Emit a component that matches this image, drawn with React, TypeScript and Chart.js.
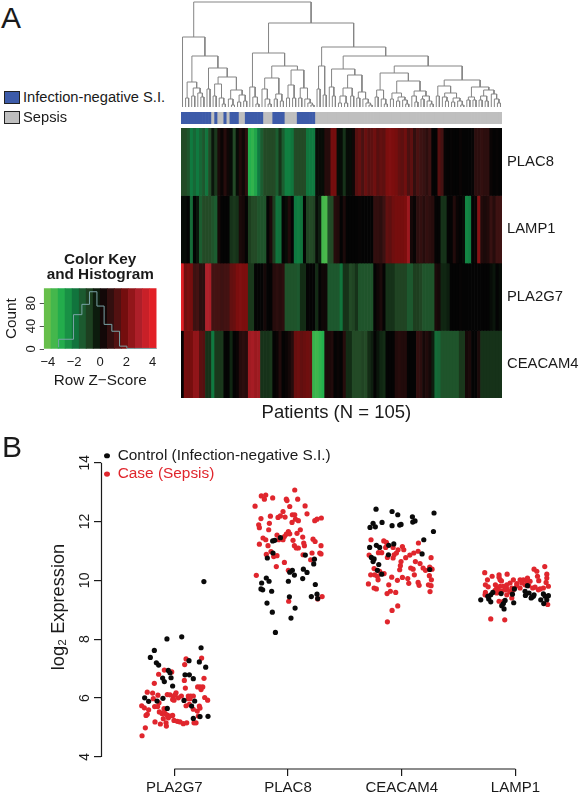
import React, { useEffect, useRef } from "react";
import { Chart, registerables } from "chart.js";

Chart.register(...registerables);

const FONT = "'Liberation Sans', Arial, sans-serif";
const INK = "#1a1a1a";

// ---------- Panel A data ----------
const genes = ["PLAC8", "LAMP1", "PLA2G7", "CEACAM4"];

const plac8Z = [
  -1, -1, -1.2, -2, -1.6, -2, -1.6, -1.3, -1.9, -1,
  -0.2, -0.7, 0.4, 0.1, 0.6, 0.2, -0.1, -1, -0.1, 0.5,
  0.2, 0.7, -3, -3.2, -2.8, -2, -1.4, -1, -1, -1,
  -1, -1.4, -0.6, -1.4, -2.1, -2.1, -1.9, -1, -1, -1,
  -1, -1.9, -2, -2, -0.1, -0.1, -0.1, 0.6, 0.6, 1.9,
  1.9, -0.1, -0.1, -0.6, -0.1, -0.1, 0.2, 1.4, 1.6, 1.2,
  1.7, 1.4, 1.5, 1.8, 1.4, 1.6, 1.5, 2, 2.1, 2,
  1.9, 1.6, 1.5, 1.8, 1.2, 1.5, 0.8, 1.2, 1, 0.9,
  0.7, 1, 0, 0, 1.4, 1.1, 0.05, 0, 0.05, 0,
  0, 0.1, 0, 0, 0, 0.05, 0.7, 0.7, 0.8, 0.7,
  0.7, 0.1, 0, 0.05, 0,
];
const lamp1Z = [
  -0.1, -0.1, 0, -1.7, 0, -0.2, -1.4, -1, -1, -1,
  -1.2, -1.4, 0.3, 0, 0, 0, -0.6, -0.7, -0.6, 0.4,
  0.3, 0, -0.8, -1, -1, -1.2, -1.2, -1.2, 0, 0.4,
  -0.8, -1.9, -1.8, 0, -0.1, 0.5, 0, -2, -2.1, -1.9,
  0, -0.9, -1, -0.9, -0.1, -0.3, -3.5, -3.6, -1.1, -1,
  0.6, 0.5, 0, 0.4, 0, 0, 0, 0, 0.05, 0,
  0, 0, 0, 0.8, 0.8, 0.7, 1, 1.6, 1.5, 1.8,
  1.9, 1.9, 1.9, 2, 2.6, 0.3, 0.1, 0.7, 0.8, 0.6,
  0.8, 0.7, 0.6, 0, 0, -0.6, -0.6, 0, 0, 0.5,
  0.1, 0, -0.1, -2.2, -2.1, 0, 0.1, 2.2, 0.5, 0.4,
  0.5, 0.9, 0.6, 1, 1,
];
const pla2g7Z = [
  4, 1.8, 2, 1.9, 1, 1.1, 0.7, 0.7, 3, 2.9,
  1.1, 1.1, 1.1, 1, 1.1, 1.1, 1.6, 1.7, 2, 2.1,
  2, 2, -0.7, -0.7, 0, 0, 0, 0.3, 0, 0,
  0.6, 0.7, 0.6, 0.7, -1.2, -1.2, -1.2, -1.2, -1.3, -0.5,
  -0.5, 0, 0, 0, -0.5, 0, 0.2, 0.2, -1.3, -1.3,
  -1.3, -1.3, -1.9, -0.6, -0.6, -1, -0.9, -0.6, -1.2, -1.2,
  -1.2, -1.2, -1.2, 0, 0.2, 0.4, 0, -0.6, -0.6, -0.6,
  -0.9, -0.9, -0.9, -0.9, -1.3, -1.3, -0.8, -0.8, -0.9, -1.2,
  -1.2, -1.2, -1.2, 0.4, 0.3, -0.4, -0.4, -0.3, 0, 0,
  0, 0.05, 0, 0, 0, 0, 0, 0, 0, 0,
  0, -0.1, -0.2, 0, -0.1,
];
const ceacam4Z = [
  0, 1.9, 1.8, 1.9, 2.4, 2.4, 1.5, 1.4, -0.6, -0.6,
  -2, -0.7, -0.7, -0.7, 0, 0, -0.4, 0, 0.1, 0.6,
  0.7, 0.6, 2.7, 2.8, 2.6, 2.7, -0.6, -0.6, -0.6, -0.7,
  0, 0.1, 0.5, 0, 0.1, 0.3, 0.6, 1.7, 1.8, 1.6,
  1.7, 1.8, 1.7, -3.3, -3.4, -3.2, -3, 0.4, 0.4, 0.5,
  0, 0.1, 0, 0.6, -0.5, -0.5, -1, -1, -1, -0.9,
  -1, -0.5, -0.3, 0, -0.2, -0.4, -0.5, 0, 0, 0,
  0.5, 0.6, 0.5, 0.5, 0, 0, 0, 0.8, 0.7, 0.3,
  0.5, 0.3, -0.3, -1.7, -1.6, -1.2, -1.2, -1.2, -1.2, -1.2,
  -1.2, -0.7, -0.7, 0.3, 0.4, 0, 0, 0.4, -0.6, -0.6,
  -0.6, -0.6, -0.6, -0.6, -0.6,
];
const heatRows = [plac8Z, lamp1Z, pla2g7Z, ceacam4Z];

// run lengths along the patients: [count, group]; 1 = infection-negative S.I., 0 = sepsis
const sidebarRuns = [
  [10, 1], [1, 0], [1, 1], [2, 0], [1, 1], [1, 0], [3, 1], [2, 0],
  [6, 1], [3, 0], [4, 1], [4, 0], [6, 1], [61, 0],
];

// dendrogram: [height, child, child]; 0 is a patient leaf
const dendroTree: any = [105,
  [70, 0, [51,
    [25, [9, 0, 0], [19, [11, 0, 0], [14, 0, [10, 0, 0]]]],
    [39, [18, 0, 0], [30,
      [23, [11, 0, 0], [9, 0, [3, 0, 0]]],
      [17, [8, 0, [2, 0, 0]], [12, [5, 0, 0], [6, 0, 0]]]]]]],
  [84,
    [54,
      [20, 0, [10, 0, [3, 0, 0]]],
      [41,
        [29, [18, 0, [8, 0, [3, 0, 0]]], [13, [8, 0, 0], [6, 0, 0]]],
        [37, [22, [9, 0, 0], [9, 0, 0]], [19, [9, 0, 0], [8, 0, [4, 0, [2, 0, 0]]]]]]],
    [60,
      [41, [18, 0, 0], [12, 0, 0]],
      [51,
        [38, [20, 0, [11, 0, 0]], [32,
          [19, [11, [4, 0, 0], [4, 0, 0]], [11, 0, 0]],
          [15, [9, 0, 0], [8, 0, [4, 0, [2, 0, 0]]]]]],
        [41,
          [34,
            [17, [10, 0, 0], [8, 0, [3, 0, 0]]],
            [26,
              [14, [8, 0, 0], [10, [6, 0, 0], [7, 0, [3, 0, 0]]]],
              [16, [11, 0, [5, 0, 0]], [11, [8, 0, 0], [6, 0, [3, 0, 0]]]]]],
          [27,
            [21, [11, 0, 0], [14, [10, 0, [6, 0, 0]], [9, [5, 0, 0], [6, 0, [2, 0, 0]]]]],
            [20, [10, [7, 0, 0], [7, 0, 0]], [17, [11, [7, 0, 0], [6, 0, 0]], [13, 0, [8, 0, [4, 0, 0]]]]]]]]]],
];

// colour key
const keyBins = [-4.03, -3.49, -2.95, -2.42, -1.88, -1.34, -0.81, -0.27, 0.27, 0.81, 1.34, 1.88, 2.42, 2.95, 3.49, 4.03];
const zStops: [number, number[]][] = [
  [-4.3, [120, 195, 74]], [-3, [36, 176, 77]], [-2, [15, 122, 64]], [-1, [35, 74, 38]],
  [-0.4, [16, 38, 18]], [0, [4, 4, 4]], [1, [61, 18, 18]], [2, [124, 14, 14]],
  [3, [176, 32, 42]], [4.3, [239, 32, 37]],
];
const histEdges = [-3.18, -2.04, -1.4, -0.82, -0.25, 0.3, 0.89, 1.48, 2.04, 2.62, 4.33];
const histCounts = [3, 17, 60, 78, 100, 75, 43, 31, 5, 1, 1];
const keyXTicks = [-4, -2, 0, 2, 4];
const keyYTicks = [0, 20, 40, 60, 80, 100];
const keyYLabelled = [0, 40, 80];

// ---------- Panel B data: [jittered gene position, log2 expression] ----------
const scatterGenes = ["PLA2G7", "PLAC8", "CEACAM4", "LAMP1"];
const scatterYTicks = [4, 6, 8, 10, 12, 14];

const controlPla2g7 = [
  [.935, 8.01], [1.065, 8.08], [1.235, 7.71], [.824, 7.62], [.789, 7.38], [.842, 7.2], [.862, 7.12], [.947, 6.94],
  [.962, 6.86], [.971, 6.69], [.897, 6.68], [.912, 6.56], [.985, 6.41], [1.129, 7.27], [1.22, 7.23], [1.276, 7.05],
  [1.094, 6.79], [1.132, 6.79], [1.167, 6.66], [.739, 6.01], [.774, 5.89], [.848, 5.9], [.9, 5.99], [.938, 5.65],
  [1.085, 5.92], [1.179, 5.9], [1.152, 5.73], [1.167, 5.31], [1.226, 5.37], [1.296, 5.38],
  [1.26, 9.96],
];
const casePla2g7 = [
  [.716, 4.72], [.745, 4.99], [.713, 5.74], [.736, 5.67], [.762, 5.45], [.774, 5.6], [.751, 5.41], [.762, 6.2],
  [.809, 6.17], [.815, 5.98], [.856, 6.1], [.824, 6.5], [.862, 6.81], [.912, 6.95], [.977, 6.89], [.827, 5.71],
  [.853, 5.71], [.865, 5.84], [.83, 5.19], [.877, 5.12], [.903, 5.3], [.927, 5.16], [.93, 5.05], [.891, 5.48],
  [.909, 5.64], [.918, 5.48], [.938, 5.42], [.962, 5.39], [.985, 5.41], [.997, 5.24], [1.026, 5.21], [1.05, 5.19],
  [1.079, 5.13], [1.109, 5.16], [.938, 6.12], [.962, 6.11], [.991, 6.05], [.997, 5.93], [1.015, 6.18], [1.006, 6.11],
  [1.062, 6.07], [1.097, 6.34], [1.088, 6.6], [1.091, 7.14], [1.103, 7.33], [1.24, 7.36], [1.261, 6.67], [1.205, 6.38],
  [1.226, 6.38], [1.25, 6.38], [1.235, 6.29], [1.267, 6.02], [1.293, 5.93], [1.123, 6.07], [1.144, 6.07], [1.167, 6.07],
  [1.123, 5.98], [1.138, 5.98], [1.103, 5.74], [1.132, 5.79], [1.167, 5.62], [1.22, 5.73], [1.226, 5.66], [1.211, 5.39],
  [1.173, 5.16], [1.191, 5.16], [1.202, 5.56], [.985, 5.95], [1.035, 6.01], [.868, 5.53], [.947, 5.33],
];
const controlPlac8 = [
  [1.865, 11.34], [1.883, 11.36], [1.933, 11.45], [1.868, 10.93], [1.818, 10.76], [2.152, 10.86], [2.232, 10.72], [2.226, 10.56],
  [2.135, 10.38], [2.167, 10.27], [2.038, 10.34], [2.015, 10.28], [2.056, 10.18], [2.129, 10.06], [1.809, 10.08], [1.768, 9.91],
  [1.833, 9.97], [1.762, 9.71], [1.777, 9.68], [1.856, 9.63], [2.003, 9.97], [2.24, 9.86], [1.815, 9.23], [2.012, 9.44],
  [2.205, 9.45], [2.255, 9.53], [2.261, 9.38], [2.062, 9.06], [1.862, 8.92], [2.026, 8.72], [1.889, 8.23],
];
const casePlac8 = [
  [1.71, 12.52], [1.765, 12.87], [1.792, 12.76], [1.804, 12.9], [1.865, 12.8], [1.991, 12.71], [1.985, 12.76], [2.059, 13.07],
  [2.085, 12.76], [2.015, 12.51], [2.15, 12.53], [2.167, 12.26], [1.762, 12.1], [1.845, 12.18], [1.836, 11.94], [1.742, 11.89],
  [1.748, 11.79], [1.83, 11.72], [1.912, 12.14], [1.933, 12.19], [1.956, 12.34], [1.974, 12.15], [2.038, 12.23], [2.059, 12.23],
  [2.035, 11.97], [2.065, 12.08], [2.091, 12.03], [2.235, 12.03], [2.255, 12.08], [2.108, 11.72], [2.079, 11.6], [2.003, 11.66],
  [2.015, 11.58], [1.903, 11.54], [1.968, 11.49], [1.985, 11.57], [1.78, 11.44], [1.804, 11.38], [1.748, 11.23], [1.824, 11.18],
  [1.918, 11.38], [1.956, 11.38], [2.044, 11.36], [2.129, 11.47], [2.22, 11.4], [2.238, 11.32], [2.138, 11.27], [2.144, 11.18],
  [2.056, 11.18], [2.073, 11.1], [2.091, 11.1], [2.132, 10.87], [2.211, 10.93], [2.279, 10.93], [1.809, 10.88], [1.85, 10.98],
  [1.874, 10.81], [1.903, 10.84], [1.897, 10.47], [1.968, 10.61], [2.199, 10.7], [2.003, 10.34], [1.721, 10.17], [2.006, 9.29],
  [2.261, 9.37], [2.293, 12.12], [2.29, 11.18], [2.29, 10.9], [2.3, 9.45],
];
const controlCeacam4 = [
  [2.774, 12.42], [2.915, 12.34], [2.965, 12.23], [3.094, 12.16], [3.117, 12.02], [3.097, 11.98], [3.284, 12.29], [2.827, 11.97],
  [2.748, 11.94], [2.721, 11.8], [2.768, 11.82], [2.915, 11.86], [2.982, 11.88], [2.994, 11.9], [3.279, 11.66], [3.194, 11.38],
  [2.93, 11.24], [2.886, 11.19], [2.718, 11.12], [2.777, 11.19], [2.806, 11.12], [2.883, 10.87], [3.179, 10.9], [2.733, 10.78],
  [2.757, 10.73], [2.748, 10.64], [2.798, 10.54], [2.786, 10.34], [2.824, 10.21], [3.246, 10.37],
];
const caseCeacam4 = [
  [2.73, 11.38], [2.842, 11.34], [2.865, 11.29], [2.859, 11.12], [2.924, 11.12], [2.968, 11.04], [3.006, 11.15], [3.018, 11.04],
  [2.953, 10.93], [2.933, 10.87], [2.924, 10.76], [2.874, 10.78], [2.795, 10.94], [2.824, 10.94], [2.713, 10.86], [3.147, 11.27],
  [3.144, 10.99], [3.106, 10.93], [3.071, 10.86], [3.035, 10.77], [3.258, 10.77], [2.994, 10.64], [3.12, 10.64], [3.161, 10.57],
  [2.988, 10.5], [2.982, 10.36], [3.079, 10.42], [3.1, 10.38], [3.188, 10.42], [3.209, 10.34], [3.246, 10.45], [3.267, 10.38],
  [2.757, 10.4], [2.806, 10.31], [2.845, 10.23], [2.727, 10.19], [2.762, 10.19], [2.786, 10.14], [2.792, 10.02], [2.912, 10.11],
  [2.962, 10.0], [3.006, 10.1], [3.053, 10.06], [3.111, 10.19], [3.243, 10.16], [3.261, 10.02], [3.062, 9.9], [3.144, 9.93],
  [3.153, 9.83], [3.235, 9.85], [3.258, 9.82], [3.249, 9.62], [2.707, 9.88], [2.886, 9.85], [2.757, 9.74], [2.777, 9.71],
  [2.9, 9.63], [2.871, 9.55], [2.947, 9.59], [2.965, 9.13], [2.915, 8.98], [2.874, 8.59],
];
const controlLamp1 = [
  [3.695, 9.34], [3.765, 9.37], [3.757, 9.46], [3.783, 9.51], [3.801, 9.59], [3.783, 9.27], [3.874, 9.55], [3.991, 9.71],
  [3.974, 9.53], [3.985, 9.24], [3.909, 9.32], [3.894, 9.21], [3.88, 9.14], [3.9, 9.03], [4.106, 9.82], [4.085, 9.63],
  [4.088, 9.49], [4.12, 9.57], [4.138, 9.4], [4.158, 9.46], [4.164, 9.51], [4.246, 9.54], [4.223, 9.34], [4.261, 9.46],
  [4.29, 9.48], [4.249, 9.21], [4.276, 9.34], [4.144, 9.43],
];
const caseLamp1 = [
  [3.73, 10.26], [3.795, 10.14], [3.856, 10.19], [3.927, 10.21], [3.754, 10.02], [3.736, 9.85], [3.877, 9.98], [3.856, 10.11],
  [3.824, 9.85], [3.736, 9.59], [3.733, 9.51], [3.836, 9.74], [3.865, 9.8], [3.894, 9.8], [3.924, 9.85], [3.953, 9.91],
  [3.982, 10.02], [4.041, 10.02], [4.07, 10.02], [4.106, 10.08], [4.164, 10.38], [4.188, 10.31], [4.194, 10.14], [4.205, 9.99],
  [4.258, 10.47], [4.276, 10.21], [4.276, 10.08], [4.27, 9.93], [4.29, 9.8], [4.246, 9.74], [4.202, 9.68], [4.152, 9.74],
  [4.117, 9.82], [4.041, 9.74], [4.012, 9.82], [3.968, 9.74], [3.924, 9.71], [3.88, 9.63], [3.85, 9.68], [3.821, 9.66],
  [3.924, 9.51], [3.968, 9.4], [3.856, 9.29], [3.894, 9.29], [4.284, 9.18], [3.783, 8.69], [3.906, 8.66], [4.129, 9.97],
  [4.056, 9.91], [4.012, 9.89], [4.085, 9.85], [4.173, 9.77], [4.217, 9.71], [3.982, 9.68], [3.836, 9.57], [3.909, 9.68],
  [3.865, 10.02], [3.76, 9.78], [4.1, 9.97], [3.95, 9.62],
];

// ---------- helpers ----------
const patientCount = 105;
const patients = Array.from({ length: patientCount }, (_, i) => `P${i + 1}`);

function zColor(z: number) {
  for (let i = 1; i < zStops.length; i++) {
    if (z <= zStops[i][0]) {
      const [z0, c0] = zStops[i - 1];
      const [z1, c1] = zStops[i];
      const t = Math.max(0, (z - z0) / (z1 - z0));
      return `rgb(${c0.map((c, k) => Math.round(c + (c1[k] - c) * t)).join(",")})`;
    }
  }
  return "rgb(239,32,37)";
}

function dendroSegments(tree: any) {
  const pts: { x: number; y: number }[] = [];
  let leaf = 0;
  const walk = (n: any): [number, number] => {
    if (n === 0) return [leaf++ + 0.5, 0];
    const [xa, ha] = walk(n[1]);
    const [xb, hb] = walk(n[2]);
    pts.push({ x: xa, y: ha }, { x: xa, y: n[0] }, { x: xb, y: n[0] }, { x: xb, y: hb }, { x: xa, y: NaN });
    return [(xa + xb) / 2, n[0]];
  };
  walk(tree);
  return pts;
}

function toPoints(list: number[][]) {
  return list.map(([x, y]) => ({ x, y }));
}

// axis box sizes are fixed so the plot areas sit exactly where the figure has them
const fixWidth = (w: number) => (s: any) => {
  s.width = w; s.paddingTop = 0; s.paddingBottom = 0; s.paddingLeft = 0; s.paddingRight = 0;
};
const fixHeight = (h: number) => (s: any) => {
  s.height = h; s.paddingTop = 0; s.paddingBottom = 0; s.paddingLeft = 0; s.paddingRight = 0;
};

const rAxes = {
  id: "rAxes",
  afterDatasetsDraw(chart: any) {
    const { ctx, scales } = chart;
    const x = scales.x, y = scales.y;
    ctx.save();
    ctx.strokeStyle = INK;
    ctx.lineWidth = 1.2;
    ctx.beginPath();
    ctx.moveTo(x.left + 0.5, y.getPixelForValue(14));
    ctx.lineTo(x.left + 0.5, y.getPixelForValue(4));
    ctx.moveTo(x.getPixelForValue(1), y.bottom);
    ctx.lineTo(x.getPixelForValue(4), y.bottom);
    ctx.stroke();
    ctx.restore();
  },
};

const base: any = {
  responsive: false,
  maintainAspectRatio: false,
  animation: false,
  events: [],
  layout: { padding: 0, autoPadding: false },
};
const noPlugins = { legend: { display: false }, tooltip: { enabled: false }, title: { display: false } };

function useChart(make: (c: HTMLCanvasElement) => any) {
  const ref = useRef<HTMLCanvasElement>(null);
  useEffect(() => {
    const chart = new Chart(ref.current as HTMLCanvasElement, make(ref.current as HTMLCanvasElement));
    return () => chart.destroy();
  }, []);
  return ref;
}

function Panel({ make, left, top, width, height }: any) {
  const ref = useChart(make);
  return <canvas ref={ref} width={width} height={height} style={{ position: "absolute", left, top, width, height }} />;
}

const dendroConfig = () => ({
  type: "scatter",
  data: {
    datasets: [{
      data: dendroSegments(dendroTree), showLine: true, spanGaps: false,
      borderColor: "#858585", borderWidth: 1, pointRadius: 0, tension: 0,
    }],
  },
  options: {
    ...base,
    plugins: noPlugins,
    scales: {
      x: { type: "linear", display: false, min: 0, max: patientCount },
      y: { type: "linear", display: false, min: 0, max: 107 },
    },
  },
});

const sidebarConfig = () => {
  const groups = sidebarRuns.flatMap(([n, g]) => Array(n).fill(g));
  return {
    type: "bar",
    data: {
      labels: patients,
      datasets: [{
        data: groups.map(() => 1),
        backgroundColor: groups.map((g) => (g ? "#3d5ba9" : "#bfbfbf")),
        barPercentage: 1, categoryPercentage: 1,
      }],
    },
    options: {
      ...base,
      plugins: noPlugins,
      scales: { x: { display: false }, y: { display: false, min: 0, max: 1 } },
    },
  };
};

const heatConfig = () => ({
  type: "bar",
  data: {
    labels: patients,
    datasets: heatRows.map((row, i) => ({
      label: genes[i],
      data: row.map(() => 1),
      backgroundColor: row.map(zColor),
      barPercentage: 1, categoryPercentage: 1,
    })),
  },
  options: {
    ...base,
    plugins: noPlugins,
    scales: {
      x: {
        stacked: true,
        grid: { display: false, drawTicks: false }, border: { display: false },
        ticks: { display: false },
        afterFit: fixHeight(26),
        title: {
          display: true, text: "Patients (N = 105)  ", color: INK,
          font: { family: FONT, size: 18.5 }, padding: { top: 3, bottom: 0 },
        },
      },
      y: {
        stacked: true, reverse: true, position: "right", min: 0, max: genes.length,
        grid: { display: false, drawTicks: false }, border: { display: false },
        afterBuildTicks: (s: any) => { s.ticks = genes.map((_, i) => ({ value: i + 0.5 })); },
        afterFit: fixWidth(80),
        ticks: {
          padding: 5, color: INK, font: { family: FONT, size: 14.8 },
          callback: (v: number) => genes[Math.floor(v)],
        },
      },
    },
  },
});

const keyConfig = () => ({
  type: "bar",
  data: {
    datasets: [
      {
        type: "line", order: 0,
        data: histEdges.map((x, i) => ({ x, y: histCounts[i] })),
        stepped: "after", borderColor: "#7aa3a6", borderWidth: 1, pointRadius: 0,
      },
      {
        type: "bar", order: 1,
        data: keyBins.map((x) => ({ x, y: 106 })),
        backgroundColor: keyBins.map(zColor),
        barPercentage: 1, categoryPercentage: 1,
      },
    ],
  },
  options: {
    ...base,
    layout: { padding: { right: 18.3 }, autoPadding: false },
    plugins: {
      legend: { display: false }, tooltip: { enabled: false },
      title: {
        display: true, fullSize: false, text: ["Color Key", "and Histogram"], color: INK,
        font: { family: FONT, size: 15.3, weight: "bold", lineHeight: 1 }, padding: { top: 2, bottom: 5.7 },
      },
    },
    scales: {
      x: {
        type: "linear", min: -4.32, max: 4.32, offset: false,
        grid: { display: false, offset: false, drawOnChartArea: false, drawTicks: true, tickLength: 5 }, border: { display: false },
        afterBuildTicks: (s: any) => { s.ticks = keyXTicks.map((value) => ({ value })); },
        afterFit: fixHeight(41),
        ticks: {
          color: INK, padding: 1, maxRotation: 0, font: { family: FONT, size: 13 },
          callback: (v: number) => String(v).replace("-", "\u2212"),
        },
        title: { display: true, text: "Row Z\u2212Score", color: INK, font: { family: FONT, size: 15.3 }, padding: { top: 2, bottom: 0 } },
      },
      y: {
        min: 0, max: 106,
        grid: { drawOnChartArea: false, drawTicks: true, tickLength: 4, color: "#555" }, border: { display: false },
        afterBuildTicks: (s: any) => { s.ticks = keyYTicks.map((value) => ({ value })); },
        afterFit: fixWidth(43.7),
        ticks: {
          color: INK, padding: 1, minRotation: 90, maxRotation: 90, crossAlign: "center",
          font: { family: FONT, size: 13 },
          callback: (v: number) => (keyYLabelled.includes(v) ? String(v) : ""),
        },
        title: { display: true, text: "Count", color: INK, font: { family: FONT, size: 15.3 }, padding: { top: 3, bottom: 0 } },
      },
    },
  },
});

const scatterConfig = () => ({
  type: "scatter",
  plugins: [rAxes],
  data: {
    datasets: [
      {
        label: "Control (Infection-negative S.I.)",
        data: toPoints([...controlPla2g7, ...controlPlac8, ...controlCeacam4, ...controlLamp1]),
        backgroundColor: "#0a0a0a", pointRadius: 2.6, borderWidth: 0,
      },
      {
        label: "Case (Sepsis)",
        data: toPoints([...casePla2g7, ...casePlac8, ...caseCeacam4, ...caseLamp1]),
        backgroundColor: "#e0262d", pointRadius: 2.6, borderWidth: 0,
      },
    ],
  },
  options: {
    ...base,
    layout: { padding: { right: 12 }, autoPadding: false },
    plugins: {
      tooltip: { enabled: false },
      legend: {
        display: true, position: "chartArea", align: "start",
        labels: {
          usePointStyle: true, boxHeight: 3.6, pointStyleWidth: 6, padding: 3,
          font: { family: FONT, size: 15.4 },
          generateLabels: (c: any) => c.data.datasets.map((d: any, i: number) => ({
            text: d.label, fontColor: i === 0 ? INK : "#e0262d",
            fillStyle: d.backgroundColor, strokeStyle: d.backgroundColor, lineWidth: 0,
            pointStyle: "circle", datasetIndex: i, hidden: false,
          })),
        },
      },
    },
    scales: {
      x: {
        type: "linear", min: 0.355, max: 4.48,
        grid: { drawOnChartArea: false, drawTicks: true, tickLength: 7, color: INK, lineWidth: 1.2 },
        border: { display: false },
        afterBuildTicks: (s: any) => { s.ticks = scatterGenes.map((_, i) => ({ value: i + 1 })); },
        afterFit: fixHeight(31),
        ticks: {
          padding: 3, color: INK, maxRotation: 0, font: { family: FONT, size: 15 },
          callback: (v: number) => scatterGenes[v - 1],
        },
      },
      y: {
        type: "linear", min: 3.59, max: 14.6,
        grid: { drawOnChartArea: false, drawTicks: true, tickLength: 7, color: INK, lineWidth: 1.2 },
        border: { display: false },
        afterBuildTicks: (s: any) => { s.ticks = scatterYTicks.map((value) => ({ value })); },
        afterFit: fixWidth(101),
        ticks: {
          padding: 1, color: INK, minRotation: 90, maxRotation: 90, crossAlign: "center",
          font: { family: FONT, size: 14 },
        },
        title: {
          display: true, text: "log\u2082 Expression", color: INK,
          font: { family: FONT, size: 18.2 }, padding: { top: 48, bottom: 0 },
        },
      },
    },
  },
});

const textStyle = (left: number, top: number, size: number): React.CSSProperties => ({
  position: "absolute", left, top, fontFamily: FONT, fontSize: size, lineHeight: `${size}px`,
  color: INK, whiteSpace: "nowrap",
});

export default function App() {
  return (
    <div style={{ position: "absolute", left: 0, top: 0, width: 582, height: 800, background: "#fff", overflow: "hidden" }}>
      <Panel make={dendroConfig} left={181} top={0} width={321} height={107} />
      <Panel make={sidebarConfig} left={181} top={112} width={321} height={12} />
      <Panel make={heatConfig} left={181} top={128} width={401} height={296} />
      <Panel make={keyConfig} left={0} top={250} width={175} height={140} />
      <Panel make={scatterConfig} left={0} top={445} width={582} height={355} />

      <div style={textStyle(1, 3, 30)}>A</div>
      <div style={textStyle(2, 432, 30)}>B</div>

      <div style={{ position: "absolute", left: 5, top: 92, width: 14, height: 11, background: "#3d5ba9", outline: "1px solid #222" }} />
      <div style={textStyle(23, 90, 14.7)}>Infection-negative S.I.</div>
      <div style={{ position: "absolute", left: 5, top: 112, width: 14, height: 11, background: "#bfbfbf", outline: "1px solid #222" }} />
      <div style={textStyle(23, 110, 14.7)}>Sepsis</div>
    </div>
  );
}
